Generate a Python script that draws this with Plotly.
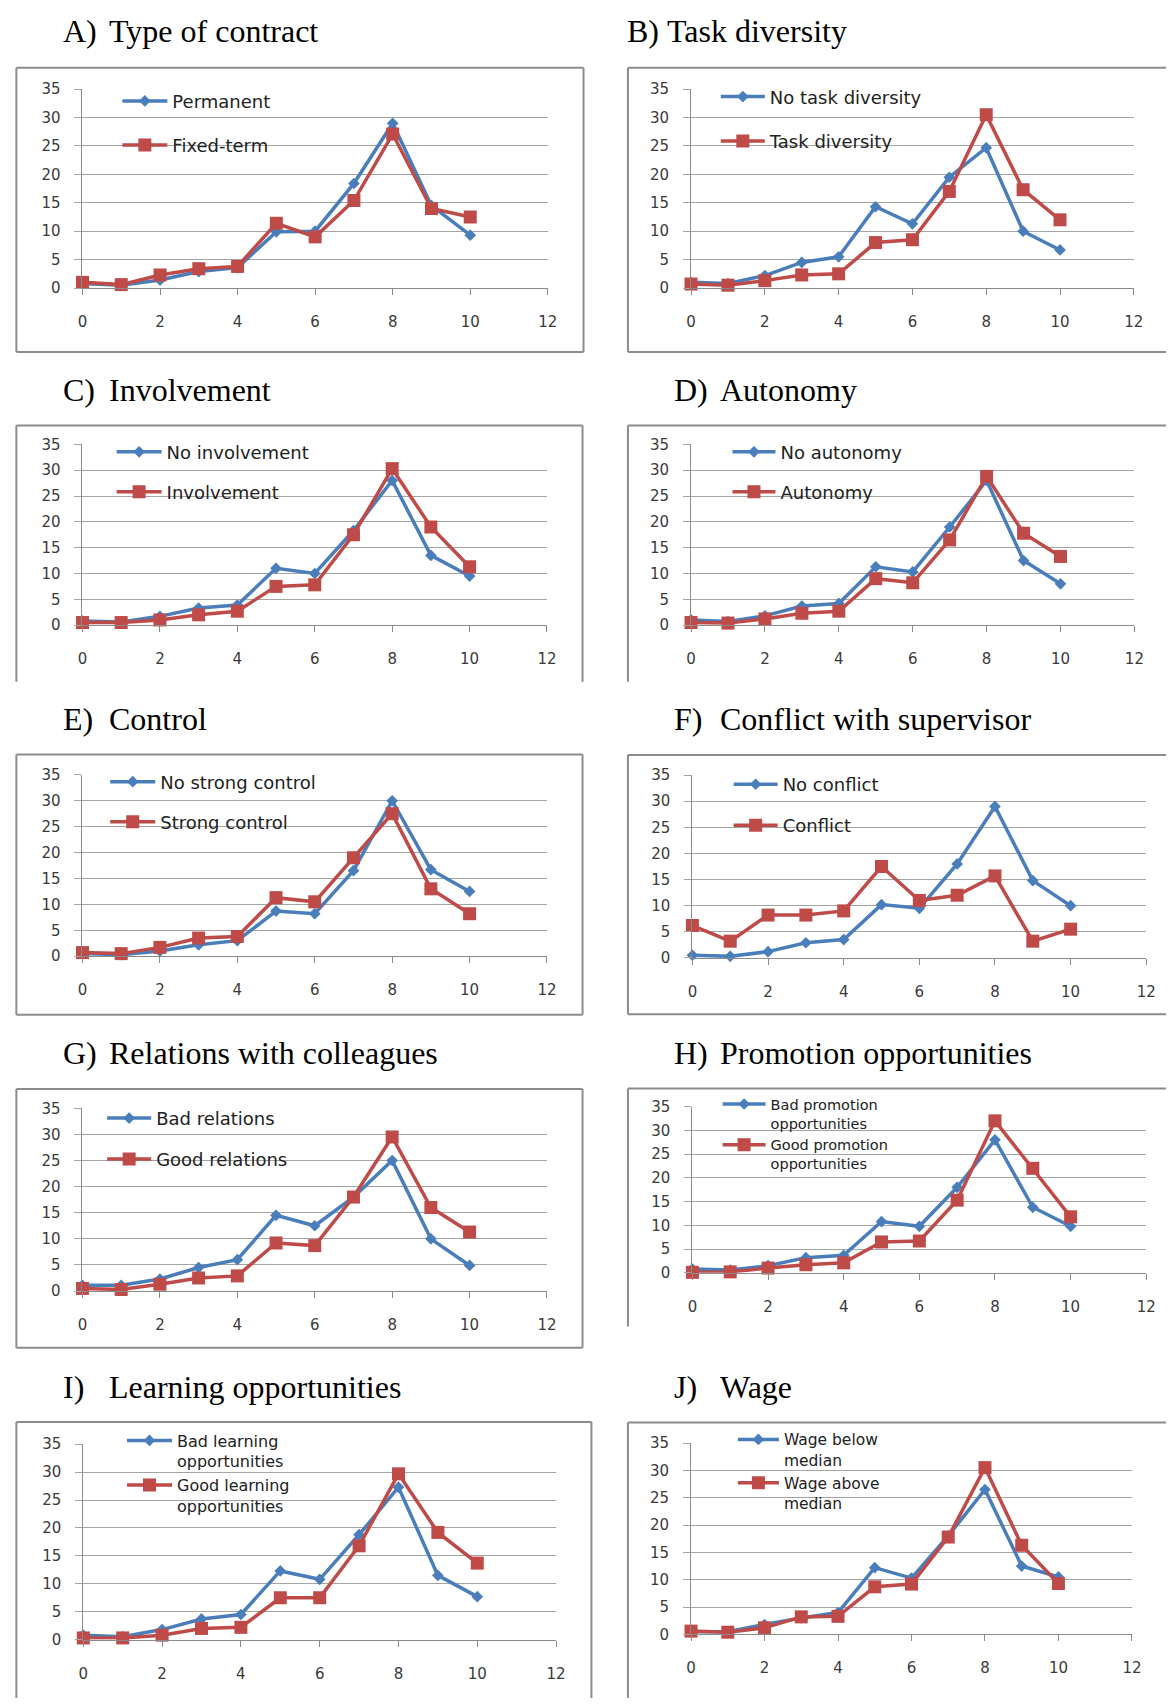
import plotly.graph_objects as go

W, H = 1176, 1707

# ---------------- data ----------------
scores = [0, 1, 2, 3, 4, 5, 6, 7, 8, 9, 10]
x_tick_values = [0, 2, 4, 6, 8, 10, 12]
y_tick_values = [0, 5, 10, 15, 20, 25, 30, 35]

permanent = [0.8, 0.5, 1.4, 2.9, 3.6, 9.9, 10.0, 18.4, 29.0, 14.5, 9.3]
fixed_term = [1.0, 0.6, 2.3, 3.4, 3.8, 11.4, 9.0, 15.4, 27.1, 14.0, 12.5]

no_task_diversity = [1.0, 0.8, 2.2, 4.5, 5.5, 14.3, 11.3, 19.5, 24.7, 10.0, 6.7]
task_diversity = [0.7, 0.5, 1.3, 2.3, 2.5, 8.0, 8.5, 17.0, 30.5, 17.3, 12.0]

no_involvement = [0.8, 0.6, 1.7, 3.3, 3.9, 11.0, 10.0, 18.3, 28.0, 13.5, 9.5]
involvement = [0.5, 0.5, 1.0, 2.0, 2.7, 7.5, 7.8, 17.5, 30.3, 19.0, 11.3]

no_autonomy = [1.0, 0.7, 1.8, 3.7, 4.2, 11.3, 10.3, 19.0, 28.0, 12.5, 8.0]
autonomy = [0.5, 0.4, 1.2, 2.3, 2.7, 9.0, 8.2, 16.5, 28.8, 17.8, 13.3]

no_strong_control = [0.5, 0.3, 1.0, 2.2, 3.0, 8.7, 8.2, 16.5, 30.0, 16.7, 12.5]
strong_control = [0.7, 0.5, 1.7, 3.5, 3.8, 11.3, 10.5, 19.0, 27.5, 13.0, 8.2]

no_conflict = [0.5, 0.3, 1.2, 2.9, 3.5, 10.2, 9.5, 18.0, 29.0, 14.8, 10.0]
conflict = [6.2, 3.2, 8.2, 8.2, 9.0, 17.5, 11.0, 12.0, 15.7, 3.2, 5.5]

bad_relations = [1.1, 1.1, 2.3, 4.5, 6.0, 14.5, 12.5, 18.0, 25.0, 10.0, 4.9]
good_relations = [0.5, 0.3, 1.3, 2.5, 2.9, 9.2, 8.7, 18.0, 29.5, 16.0, 11.3]

bad_promotion = [0.8, 0.6, 1.5, 3.2, 3.7, 10.8, 9.8, 18.0, 28.0, 13.8, 9.8]
good_promotion = [0.1, 0.2, 1.0, 1.7, 2.1, 6.5, 6.7, 15.3, 32.0, 22.0, 11.8]

bad_learning = [0.8, 0.5, 1.8, 3.7, 4.5, 12.3, 10.8, 18.8, 27.3, 11.5, 7.7]
good_learning = [0.3, 0.3, 0.8, 2.0, 2.2, 7.5, 7.5, 16.8, 29.7, 19.2, 13.7]

wage_below = [0.5, 0.5, 1.8, 3.0, 4.0, 12.2, 10.3, 18.0, 26.5, 12.5, 10.5]
wage_above = [0.6, 0.4, 1.2, 3.2, 3.3, 8.7, 9.2, 17.8, 30.5, 16.3, 9.3]

panel_letters = ["A)", "B)", "C)", "D)", "E)", "F)", "G)", "H)", "I)", "J)"]
panel_titles = ["Type of contract", "Task diversity", "Involvement", "Autonomy", "Control",
                "Conflict with supervisor", "Relations with colleagues",
                "Promotion opportunities", "Learning opportunities", "Wage"]
blue_names = ["Permanent", "No task diversity", "No involvement", "No autonomy",
              "No strong control", "No conflict", "Bad relations",
              "Bad promotion<br>opportunities", "Bad learning<br>opportunities",
              "Wage below<br>median"]
red_names = ["Fixed-term", "Task diversity", "Involvement", "Autonomy",
             "Strong control", "Conflict", "Good relations",
             "Good promotion<br>opportunities", "Good learning<br>opportunities",
             "Wage above<br>median"]
blue_series = [permanent, no_task_diversity, no_involvement, no_autonomy, no_strong_control,
               no_conflict, bad_relations, bad_promotion, bad_learning, wage_below]
red_series = [fixed_term, task_diversity, involvement, autonomy, strong_control,
              conflict, good_relations, good_promotion, good_learning, wage_above]

# ---------------- geometry (pixels) ----------------
# plot: (x at 0, x at 12, y at 35, y at 0)
# frame: (left, right or None, top, bottom line or None, side lines end)
# title: (letter x, text x, vertical centre)
# leg: (sample left, sample width, font size, legend top, gap between items)
geom = [
    dict(plot=(78.5, 549.8, 81.0, 282.0), frame=(11.5, 586.0, 59.3, 346.7, 346.7),
         title=(56.5, 103.5, 22.3), leg=(118.8, 45, 18, 74.5, 17.6)),
    dict(plot=(694.9, 1143.4, 81.0, 282.0), frame=(631.0, None, 59.3, 346.7, 346.7),
         title=(628.0, 668.5, 22.3), leg=(725.0, 44, 18, 70.1, 18.0)),
    dict(plot=(78.5, 549.0, 440.0, 622.7), frame=(11.5, 585.0, 421.0, None, 680.0),
         title=(56.5, 103.5, 385.0), leg=(113.0, 45, 18, 429.1, 13.6)),
    dict(plot=(694.9, 1144.0, 440.0, 622.7), frame=(631.0, None, 421.0, None, 680.0),
         title=(676.0, 722.0, 385.0), leg=(736.8, 43, 18, 429.1, 13.6)),
    dict(plot=(78.5, 549.0, 774.0, 957.3), frame=(11.5, 585.0, 753.5, 1016.5, 1016.5),
         title=(56.5, 103.5, 717.3), leg=(106.5, 45, 18, 762.5, 13.6)),
    dict(plot=(696.3, 1156.0, 774.3, 959.0), frame=(631.0, None, 754.0, 1016.0, 1016.0),
         title=(676.0, 722.0, 717.3), leg=(738.0, 44, 18, 765.1, 14.6)),
    dict(plot=(78.5, 549.0, 1111.0, 1295.7), frame=(11.5, 585.0, 1091.5, 1353.0, 1353.0),
         title=(56.5, 103.5, 1055.0), leg=(103.4, 44, 18, 1102.5, 14.6)),
    dict(plot=(696.3, 1156.0, 1109.3, 1277.3), frame=(631.0, None, 1091.0, None, 1331.5),
         title=(676.0, 722.0, 1055.0), leg=(726.8, 43, 14.5, 1090.6, 0)),
    dict(plot=(79.3, 558.2, 1450.5, 1648.0), frame=(11.5, 594.0, 1428.0, None, 1707.0),
         title=(56.5, 103.5, 1392.5), leg=(123.5, 45, 16, 1429.6, 0)),
    dict(plot=(694.9, 1141.5, 1449.3, 1642.7), frame=(631.0, None, 1428.5, None, 1707.0),
         title=(676.0, 722.0, 1392.5), leg=(742.3, 41, 15.5, 1428.9, 0)),
]

BLUE = "#4A7EBB"
RED = "#BE4B48"
GRID = "#a4a4a4"
AXIS = "#8a8a8a"
FRAME = "#8c8c8c"
TICK_FONT = dict(family="DejaVu Sans", size=15, color="#3a3a3a")
TITLE_FONT = dict(family="Liberation Serif, Times New Roman, serif", size=32, color="#000000")


def px(x):
    return x / W


def py(y):
    return 1 - y / H


fig = go.Figure()
layout = dict(width=W, height=H, margin=dict(l=0, r=0, t=0, b=0),
              paper_bgcolor="white", plot_bgcolor="rgba(0,0,0,0)", showlegend=True)
shapes = []
annotations = []

for i in range(10):
    n = i + 1
    g = geom[i]
    xa = "xaxis" if n == 1 else f"xaxis{n}"
    ya = "yaxis" if n == 1 else f"yaxis{n}"
    xr = "x" if n == 1 else f"x{n}"
    yr = "y" if n == 1 else f"y{n}"
    lg = "legend" if n == 1 else f"legend{n}"
    x0, x12, y35, y0 = g["plot"]

    layout[xa] = dict(domain=[px(x0), px(x12)], range=[0, 12], anchor=yr,
                      tickvals=x_tick_values, ticktext=[str(v) for v in x_tick_values],
                      showgrid=False, zeroline=False, showline=True, linecolor=AXIS, linewidth=1,
                      ticks="outside", ticklen=6, tickcolor=AXIS, tickwidth=1,
                      tickfont=TICK_FONT, ticklabelstandoff=14, fixedrange=True)
    layout[ya] = dict(domain=[py(y0), py(y35)], range=[0, 35], anchor=xr,
                      tickvals=y_tick_values, ticktext=[str(v) for v in y_tick_values],
                      showgrid=True, gridcolor=GRID, gridwidth=1, zeroline=False,
                      showline=True, linecolor=AXIS, linewidth=1,
                      ticks="outside", ticklen=7, tickcolor=GRID, tickwidth=1,
                      tickfont=TICK_FONT, ticklabelstandoff=11, fixedrange=True)

    fig.add_trace(go.Scatter(x=scores, y=blue_series[i], name=blue_names[i], mode="lines+markers",
                             xaxis=xr, yaxis=yr, legend=lg, legendgroup=f"b{n}",
                             line=dict(color=BLUE, width=3.5),
                             marker=dict(symbol="diamond", size=9, color=BLUE),
                             cliponaxis=False))
    fig.add_trace(go.Scatter(x=scores, y=red_series[i], name=red_names[i], mode="lines+markers",
                             xaxis=xr, yaxis=yr, legend=lg, legendgroup=f"r{n}",
                             line=dict(color=RED, width=3.5),
                             marker=dict(symbol="square", size=13, color=RED),
                             cliponaxis=False))

    lx, iw, fs, top, gap = g["leg"]
    layout[lg] = dict(x=px(lx - 5), xanchor="left", y=py(top), yanchor="top",
                      font=dict(family="DejaVu Sans", size=fs, color="#222222"),
                      bgcolor="rgba(0,0,0,0)", borderwidth=0, itemwidth=max(30, iw),
                      tracegroupgap=gap, traceorder="grouped", valign="top",
                      itemclick=False, itemdoubleclick=False)

    # frame
    fl, fr, ft, fb, fbottom = g["frame"]
    right = fr if fr is not None else W
    line_style = dict(color=FRAME, width=2)
    shapes.append(dict(type="line", xref="paper", yref="paper", x0=px(fl), x1=px(right),
                       y0=py(ft), y1=py(ft), line=line_style))
    shapes.append(dict(type="line", xref="paper", yref="paper", x0=px(fl), x1=px(fl),
                       y0=py(ft), y1=py(fbottom), line=line_style))
    if fr is not None:
        shapes.append(dict(type="line", xref="paper", yref="paper", x0=px(fr), x1=px(fr),
                           y0=py(ft), y1=py(fbottom), line=line_style))
    if fb is not None:
        shapes.append(dict(type="line", xref="paper", yref="paper", x0=px(fl), x1=px(right),
                           y0=py(fb), y1=py(fb), line=line_style))

    # title
    tl, tt, tyc = g["title"]
    annotations.append(dict(text=panel_letters[i], x=px(tl), y=py(tyc), xref="paper", yref="paper",
                            xanchor="left", yanchor="middle", showarrow=False, font=TITLE_FONT))
    annotations.append(dict(text=panel_titles[i], x=px(tt), y=py(tyc), xref="paper", yref="paper",
                            xanchor="left", yanchor="middle", showarrow=False, font=TITLE_FONT))

layout["shapes"] = shapes
layout["annotations"] = annotations
fig.update_layout(**layout)
fig.write_html("out.html")
